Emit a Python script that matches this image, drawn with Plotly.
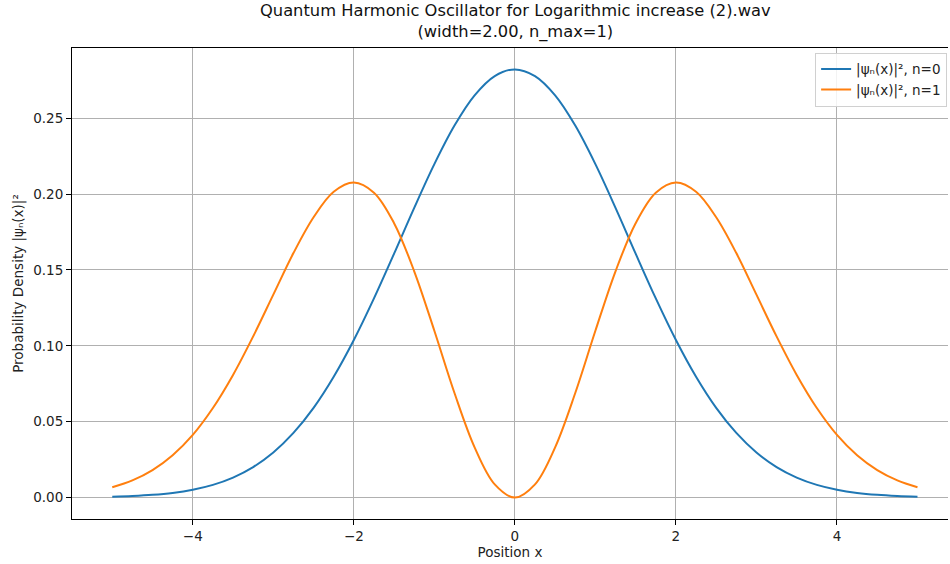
import plotly.graph_objects as go

x_vals = [-5.0, -4.75, -4.5, -4.25, -4.0, -3.75, -3.5, -3.25, -3.0, -2.75, -2.5, -2.25, -2.0,
          -1.75, -1.5, -1.25, -1.0, -0.75, -0.5, -0.25, 0.0, 0.25, 0.5, 0.75, 1.0, 1.25, 1.5,
          1.75, 2.0, 2.25, 2.5, 2.75, 3.0, 3.25, 3.5, 3.75, 4.0, 4.25, 4.5, 4.75, 5.0]

half_n0 = [0.2821, 0.2777, 0.2650, 0.2451, 0.2197, 0.1909, 0.1607, 0.1312, 0.1038, 0.0796,
           0.0591, 0.0426, 0.0297, 0.0201, 0.0132, 0.0084, 0.0052, 0.0031, 0.0018, 0.0010, 0.0005]
half_n1 = [0.0, 0.0087, 0.0331, 0.0689, 0.1099, 0.1491, 0.1808, 0.2009, 0.2076, 0.2015,
           0.1847, 0.1611, 0.1337, 0.1062, 0.0808, 0.0590, 0.0413, 0.0279, 0.0181, 0.0113, 0.0068]

density_n0 = half_n0[::-1] + half_n0[1:]
density_n1 = half_n1[::-1] + half_n1[1:]

series_names = ["|ψₙ(x)|², n=0", "|ψₙ(x)|², n=1"]
series_colors = ["#1f77b4", "#ff7f0e"]
x_ticks = [-4, -2, 0, 2, 4]
x_tick_text = ["−4", "−2", "0", "2", "4"]
y_ticks = [0.0, 0.05, 0.10, 0.15, 0.20, 0.25]
y_tick_text = ["0.00", "0.05", "0.10", "0.15", "0.20", "0.25"]
title_lines = ["Quantum Harmonic Oscillator for Logarithmic increase (2).wav", "(width=2.00, n_max=1)"]

fig = go.Figure()
for ys, name, col in zip([density_n0, density_n1], series_names, series_colors):
    fig.add_trace(go.Scatter(x=x_vals, y=ys, mode="lines", name=name,
                             line=dict(color=col, width=2, shape="spline", smoothing=1.0)))

font = "DejaVu Sans, sans-serif"
fig.update_layout(
    width=950, height=564,
    margin=dict(l=72, r=2, t=48, b=45),
    paper_bgcolor="white", plot_bgcolor="white",
    font=dict(family=font, size=13.5, color="#222"),
    showlegend=True,
    legend=dict(x=0.999, y=0.99, xanchor="right", yanchor="top",
                bordercolor="#d0d0d0", borderwidth=1, bgcolor="rgba(255,255,255,0.85)",
                font=dict(size=13.5), tracegroupgap=0),
    xaxis=dict(range=[-5.5, 5.379], tickvals=x_ticks, ticktext=x_tick_text,
               showgrid=True, gridcolor="#b0b0b0", gridwidth=1,
               showline=True, linecolor="black", linewidth=1, mirror=True,
               ticks="outside", ticklen=5, tickcolor="black", zeroline=False,
               title=dict(text="Position x", font=dict(size=13.5), standoff=4)),
    yaxis=dict(range=[-0.0141, 0.2962], tickvals=y_ticks, ticktext=y_tick_text,
               showgrid=True, gridcolor="#b0b0b0", gridwidth=1,
               showline=True, linecolor="black", linewidth=1, mirror=False,
               ticks="outside", ticklen=5, tickcolor="black", zeroline=False,
               title=dict(text="Probability Density |ψₙ(x)|²", font=dict(size=13.5), standoff=6)),
)
fig.add_annotation(text="<br>".join(title_lines), xref="paper", yref="paper",
                   x=(515 - 72) / (948 - 72), y=1, xanchor="center", yanchor="bottom",
                   yshift=4, showarrow=False, font=dict(size=16.3, color="#111"))

fig.write_html("out.html")
